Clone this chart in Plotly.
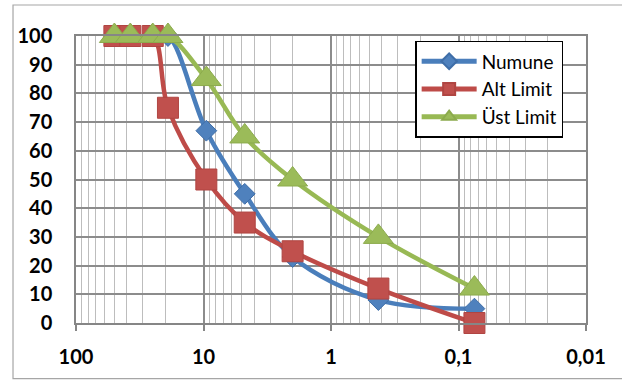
import plotly.graph_objects as go

# Sieve sizes (mm) and percent passing
sizes_numune = [25, 19, 9.5, 4.75, 2, 0.425, 0.075]
numune = [100, 100, 67, 45, 23, 8, 5]
sizes_limits = [50, 37.5, 25, 19, 9.5, 4.75, 2, 0.425, 0.075]
alt_limit = [100, 100, 100, 75, 50, 35, 25, 12, 0]
ust_limit = [100, 100, 100, 100, 85, 65, 50, 30, 12]

x_tickvals = [100, 10, 1, 0.1, 0.01]
x_ticktext = ["100", "10", "1", "0,1", "0,01"]
y_tickvals = [0, 10, 20, 30, 40, 50, 60, 70, 80, 90, 100]

FONT = "Lato"

fig = go.Figure()
fig.add_trace(go.Scatter(
    x=sizes_numune, y=numune, name="Numune", mode="lines+markers",
    line=dict(color="#4A7EBB", width=4.5, shape="spline"),
    marker=dict(symbol="diamond", size=16, color="#4F81BD",
                line=dict(color="#3F6EA8", width=1)),
    cliponaxis=False, legendgroup="a"))
fig.add_trace(go.Scatter(
    x=sizes_limits, y=alt_limit, name="Alt Limit", mode="lines+markers",
    line=dict(color="#BE4B48", width=4.5, shape="spline"),
    marker=dict(symbol="square", size=21, color="#C0504D",
                line=dict(color="#B04542", width=1)),
    cliponaxis=False, legendgroup="b"))
fig.add_trace(go.Scatter(
    x=sizes_limits, y=ust_limit, name="Üst Limit", mode="lines+markers",
    line=dict(color="#98B954", width=4.5, shape="spline"),
    marker=dict(symbol="triangle-up", size=26, color="#9BBB59",
                line=dict(color="#8CAB4D", width=1)),
    cliponaxis=False, legendgroup="c"))

fig.update_layout(
    width=622, height=382,
    margin=dict(l=76, r=36, t=36, b=59, autoexpand=False),
    paper_bgcolor="white", plot_bgcolor="white",
    font=dict(family=FONT, color="black"),
    showlegend=True,
    legend=dict(x=0.665, y=0.983, xanchor="left", yanchor="top",
                bgcolor="white", bordercolor="black", borderwidth=1.5,
                font=dict(family=FONT, size=19, color="black"),
                itemsizing="constant", tracegroupgap=0, itemwidth=55,
                entrywidth=155),
    shapes=[dict(type="rect", xref="paper", yref="paper",
                 x0=-0.1235, x1=1.2, y0=-0.194, y1=1.108,
                 line=dict(color="#A6A6A6", width=1.2), layer="below")],
)

fig.update_xaxes(
    type="log", range=[2, -2], automargin=False,
    tickvals=x_tickvals, ticktext=x_ticktext,
    tickfont=dict(family=FONT, size=20, color="black", weight="bold"),
    ticks="outside", ticklen=6, tickcolor="#868686", tickwidth=1.5,
    ticklabelstandoff=9,
    showgrid=True, gridcolor="#8C8C8C", gridwidth=1.5,
    minor=dict(dtick="D1", showgrid=True, gridcolor="#BDBDBD", gridwidth=1.2),
    showline=True, linecolor="#868686", linewidth=1.5, mirror=True,
    zeroline=False)

fig.update_yaxes(
    range=[0, 100], tickvals=y_tickvals, automargin=False,
    tickfont=dict(family=FONT, size=20, color="black", weight="bold"),
    ticks="", ticklabelstandoff=18,
    showgrid=True, gridcolor="#8C8C8C", gridwidth=1.5,
    showline=True, linecolor="#868686", linewidth=1.5, mirror=True,
    zeroline=False)

fig.write_html("out.html", config={"displayModeBar": False},
               post_script="document.body.style.margin='0';document.body.style.overflow='hidden';")
